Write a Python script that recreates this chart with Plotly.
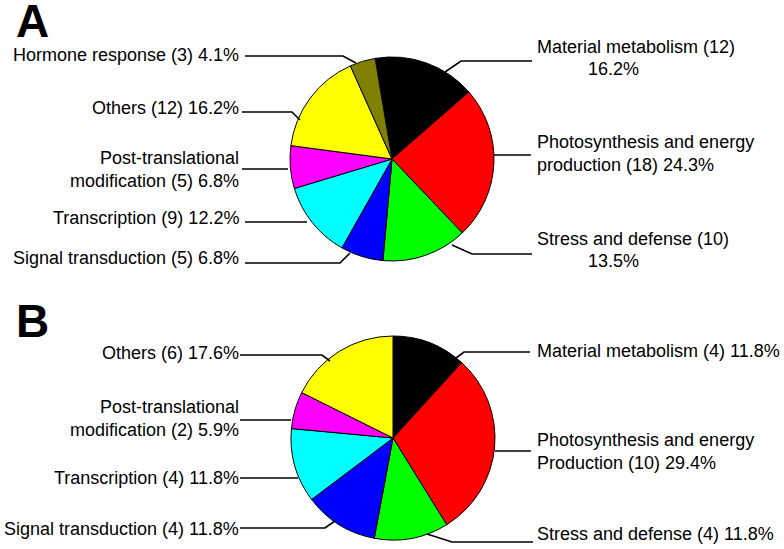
import plotly.graph_objects as go

# ---------------- data ----------------
cats_a = ["Material metabolism", "Photosynthesis and energy production", "Stress and defense",
          "Signal transduction", "Transcription", "Post-translational modification",
          "Others", "Hormone response"]
counts_a = [12, 18, 10, 5, 9, 5, 12, 3]

cats_b = ["Material metabolism", "Photosynthesis and energy Production", "Stress and defense",
          "Signal transduction", "Transcription", "Post-translational modification", "Others"]
counts_b = [4, 10, 4, 4, 4, 2, 6]

slice_colors = {
    "Material metabolism": "#000000",
    "Photosynthesis": "#FF0000",
    "Stress and defense": "#00FF00",
    "Signal transduction": "#0000FF",
    "Transcription": "#00FFFF",
    "Post-translational modification": "#FF00FF",
    "Others": "#FFFF00",
    "Hormone response": "#808000",
}

# ---------------- layout helpers ----------------
W, H = 784, 549
FONT = "Arial, Liberation Sans, sans-serif"


def color_of(c):
    for k, v in slice_colors.items():
        if c.startswith(k):
            return v
    return "#888888"


def pct(counts):
    t = sum(counts)
    return [f"{100 * c / t:.1f}" for c in counts]


def domain(cx, cy, r):
    return dict(x=[(cx - r) / W, (cx + r) / W], y=[1 - (cy + r) / H, 1 - (cy - r) / H])


fig = go.Figure()

pies = [
    dict(cats=cats_a, counts=counts_a, cx=392, cy=159, r=102, rot=-9.5),
    dict(cats=cats_b, counts=counts_b, cx=393, cy=438, r=102, rot=0),
]
for p in pies:
    fig.add_trace(go.Pie(
        labels=p["cats"], values=p["counts"], sort=False, direction="clockwise",
        rotation=p["rot"], textinfo="none", hoverinfo="label+value+percent",
        marker=dict(colors=[color_of(c) for c in p["cats"]],
                    line=dict(color="#000000", width=1)),
        domain=domain(p["cx"], p["cy"], p["r"]), showlegend=False,
    ))

# label placement (layout): side, text anchor y, optional line break point,
# optional separate percentage line (x, y), leader polyline
LX, RX = 241, 535
place_a = {
    "Hormone response": dict(side="L", y=55, line=[(245, 56), (343, 56), (356, 63)]),
    "Others": dict(side="L", y=108, line=[(242, 112), (292, 112), (300, 120)]),
    "Post-translational modification": dict(side="L", y=169, brk="Post-translational ",
                                            line=[(242, 169), (288, 169)]),
    "Transcription": dict(side="L", y=218, line=[(245, 222), (307, 222)]),
    "Signal transduction": dict(side="L", y=258, line=[(245, 263), (340, 263), (350, 253)]),
    "Material metabolism": dict(side="R", y=47, pline=(586, 69),
                                line=[(445, 72), (461, 61), (532, 61)]),
    "Photosynthesis and energy production": dict(side="R", y=153, brk="Photosynthesis and energy ",
                                                 line=[(494, 155), (531, 155)]),
    "Stress and defense": dict(side="R", y=239, pline=(586, 261),
                               line=[(452, 245), (472, 254), (532, 254)]),
}
place_b = {
    "Others": dict(side="L", y=353, line=[(240, 355), (322, 355), (330, 361)]),
    "Post-translational modification": dict(side="L", y=418, brk="Post-translational ",
                                            line=[(240, 420), (291, 420)]),
    "Transcription": dict(side="L", y=478, line=[(240, 478), (298, 478)]),
    "Signal transduction": dict(side="L", y=529, line=[(240, 528), (325, 528), (335, 521)]),
    "Material metabolism": dict(side="R", y=351, line=[(456, 358), (464, 352), (530, 352)]),
    "Photosynthesis and energy Production": dict(side="R", y=451, brk="Photosynthesis and energy ",
                                                 line=[(495, 451), (531, 451)]),
    "Stress and defense": dict(side="R", y=534, line=[(427, 534), (452, 542), (533, 542)]),
}

annotations = []
shapes = []
font = dict(family=FONT, size=18, color="#000000")

for cats, counts, place in [(cats_a, counts_a, place_a), (cats_b, counts_b, place_b)]:
    ps = pct(counts)
    for c, n, pc in zip(cats, counts, ps):
        s = place[c]
        if "pline" in s:
            main = f"{c} ({n})"
        else:
            main = f"{c} ({n}) {pc}%"
        if "brk" in s:
            main = s["brk"].rstrip() + "<br>" + main[len(s["brk"]):]
        left = s["side"] == "L"
        annotations.append(dict(
            x=LX if left else RX, y=s["y"], xref="x", yref="y", text=main, showarrow=False,
            xanchor="right" if left else "left", yanchor="middle",
            align="right" if left else "left", font=font))
        if "pline" in s:
            annotations.append(dict(
                x=s["pline"][0], y=s["pline"][1], xref="x", yref="y", text=f"{pc}%",
                showarrow=False, xanchor="left", yanchor="middle", font=font))
        pts = s["line"]
        path = "M " + " L ".join(f"{x},{y}" for x, y in pts)
        shapes.append(dict(type="path", xref="x", yref="y", path=path,
                           line=dict(color="#000000", width=1.6)))

for letter, y in [("A", 21), ("B", 321)]:
    annotations.append(dict(x=14, y=y, xref="x", yref="y", text=f"<b>{letter}</b>",
                            showarrow=False, xanchor="left", yanchor="middle",
                            font=dict(family=FONT, size=46, color="#000000")))

fig.update_layout(
    width=W, height=H, margin=dict(l=0, r=0, t=0, b=0),
    paper_bgcolor="#FFFFFF", plot_bgcolor="rgba(0,0,0,0)",
    xaxis=dict(range=[0, W], visible=False, fixedrange=True),
    yaxis=dict(range=[H, 0], visible=False, fixedrange=True),
    annotations=annotations, shapes=shapes,
)

fig.write_html(
    "out.html",
    config={"displayModeBar": False},
    post_script="document.body.style.margin='0';document.body.style.padding='0';"
                "document.body.style.overflow='hidden';",
)
